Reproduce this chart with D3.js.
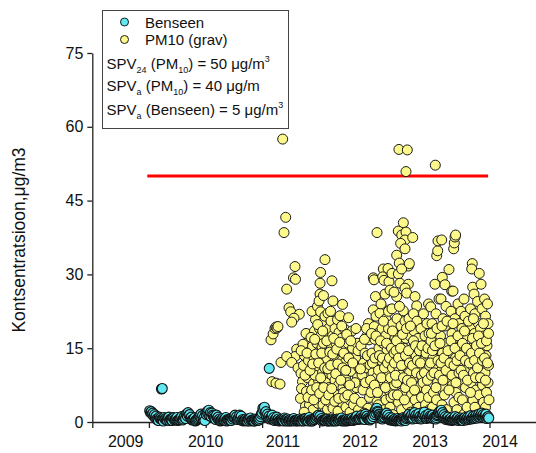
<!DOCTYPE html>
<html>
<head>
<meta charset="utf-8">
<script src="https://cdn.jsdelivr.net/npm/d3@7"></script>
<style>
  html, body { margin: 0; padding: 0; background: #fff; }
  svg { display: block; font-family: "Liberation Sans", Arial, sans-serif; }
</style>
</head>
<body>
<svg id="chart" width="536" height="453"></svg>
<script>
// Daily PM10 (gravimetric) concentrations, µg/m3 — [decimal year, value]
const pm10 = [
  [2010.845,16.7],[2010.872,17.9],[2010.896,19.0],[2010.909,19.3],[2010.922,19.1],[2010.935,19.4],[2010.858,8.2],[2010.909,7.9],[2010.974,12.1],[2010.961,7.7],
  [2010.996,57.5],[2011.035,41.6],[2011.013,38.5],[2011.156,31.6],[2011.136,29.3],[2011.162,29.0],[2011.048,27.0],[2011.078,23.2],[2011.100,22.4],[2011.212,21.9],
  [2011.143,21.1],[2011.113,20.3],[2011.178,14.8],[2011.156,13.3],[2011.048,13.3],[2011.113,12.1],[2011.195,11.0],
  [2011.234,9.9],[2011.253,8.2],[2011.227,4.8],[2011.240,6.8],[2011.266,11.5],[2011.279,13.5],[2011.305,6.2],[2011.292,3.2],[2011.318,9.0],[2011.331,12.5],
  [2011.344,3.5],[2011.338,16.8],[2011.299,18.0],[2011.260,15.8],
  [2011.357,5.5],[2011.370,10.8],[2011.383,15.4],[2011.390,2.5],[2011.396,7.8],[2011.403,13.0],[2011.409,18.5],[2011.422,20.8],[2011.429,4.2],[2011.435,11.0],
  [2011.442,16.0],[2011.455,3.8],[2011.461,8.5],[2011.468,14.2],[2011.474,19.0],[2011.377,22.5],[2011.448,23.5],[2011.416,9.5],[2011.364,17.2],
  [2011.488,30.4],[2011.481,28.2],[2011.481,26.0],[2011.468,24.6],[2011.488,22.4],[2011.500,20.0],[2011.494,17.5],[2011.507,15.2],[2011.500,12.5],[2011.513,10.0],
  [2011.494,6.8],[2011.519,3.5],[2011.532,1.8],[2011.545,33.0],[2011.526,25.7],[2011.545,21.5],[2011.558,18.4],[2011.539,14.0],[2011.564,11.5],[2011.552,8.2],
  [2011.571,5.2],[2011.578,2.6],[2011.584,22.1],[2011.591,19.0],[2011.597,16.3],[2011.584,13.4],[2011.604,9.8],[2011.597,7.0],[2011.610,4.0],[2011.526,16.0],[2011.571,12.8],
  [2011.636,28.7],[2011.649,24.6],[2011.623,20.5],[2011.643,17.5],[2011.630,15.0],[2011.656,12.0],[2011.636,9.5],[2011.662,6.0],[2011.649,2.8],[2011.675,19.0],
  [2011.688,16.0],[2011.682,13.5],[2011.695,11.0],[2011.675,8.5],[2011.701,5.5],[2011.714,2.2],[2011.708,20.8],[2011.721,14.5],[2011.727,18.2],[2011.721,7.5],
  [2011.734,10.5],[2011.617,22.5],
  [2011.773,23.9],[2011.740,21.6],[2011.760,17.0],[2011.753,14.5],[2011.766,12.5],[2011.747,10.0],[2011.779,7.0],[2011.760,4.0],[2011.792,19.0],[2011.805,15.5],
  [2011.799,12.0],[2011.812,9.0],[2011.786,6.0],[2011.818,3.0],[2011.831,13.5],[2011.851,21.2],[2011.844,16.0],[2011.857,10.5],[2011.838,8.0],[2011.864,4.5],[2011.870,2.0],
  [2011.896,18.5],[2011.903,15.0],[2011.883,10.3],[2011.890,5.8],[2011.916,3.5],[2011.922,12.5],[2011.948,19.0],[2011.961,16.0],[2011.942,13.0],[2011.968,9.0],
  [2011.955,7.0],[2011.981,2.5],[2011.987,11.0],[2011.935,8.0],
  [2011.236,14.5],[2011.275,2.0],[2011.286,9.5],[2011.312,14.0],[2011.325,5.0],[2011.351,10.5],[2011.372,6.5],[2011.386,11.8],[2011.399,4.5],[2011.412,16.8],
  [2011.426,13.8],[2011.438,7.0],[2011.451,19.8],[2011.463,12.0],[2011.477,5.8],[2011.490,9.0],[2011.503,14.0],[2011.516,18.5],[2011.529,7.0],[2011.542,11.0],
  [2011.555,4.5],[2011.568,16.5],[2011.581,10.8],[2011.594,5.5],[2011.607,14.2],[2011.620,11.5],[2011.633,6.8],[2011.646,13.8],[2011.659,17.0],[2011.672,4.2],
  [2011.685,9.8],[2011.698,14.8],[2011.711,11.8],[2011.724,4.8],[2011.737,16.2],[2011.750,8.5],[2011.763,19.5],[2011.776,11.0],[2011.789,14.0],[2011.802,5.0],
  [2011.815,10.5],[2011.828,17.8],[2011.841,5.5],[2011.854,13.0],[2011.867,7.5],[2011.880,16.5],[2011.906,12.0],[2011.930,4.8],[2011.975,14.5],
  [2012.014,15.5],[2012.029,9.6],[2012.043,6.5],[2012.021,4.0],[2012.050,12.0],[2012.071,14.0],[2012.086,11.0],[2012.114,2.8],[2012.079,8.0],[2012.100,17.5],
  [2012.129,16.7],[2012.143,11.6],[2012.136,5.0],[2012.121,20.0],[2012.107,13.5],[2012.057,1.8],[2012.093,19.0],[2012.007,10.8],[2012.064,16.8],
  [2012.190,29.3],[2012.200,28.9],[2012.190,22.8],[2012.204,19.4],[2012.214,16.8],[2012.171,14.0],[2012.186,10.0],[2012.157,6.0],[2012.243,4.1],[2012.229,21.5],
  [2012.243,38.5],[2012.286,22.1],[2012.257,18.0],[2012.271,15.0],[2012.250,12.0],[2012.279,8.5],[2012.264,3.5],[2012.221,25.5],[2012.236,9.0],[2012.164,18.0],
  [2012.333,31.1],[2012.324,29.5],[2012.343,28.8],[2012.300,24.0],[2012.314,19.0],[2012.329,16.0],[2012.307,12.5],[2012.336,9.5],[2012.321,6.0],[2012.350,2.5],
  [2012.357,26.0],[2012.371,21.0],[2012.364,17.5],[2012.386,14.5],[2012.379,11.5],[2012.393,8.0],[2012.371,4.5],[2012.400,31.2],[2012.414,28.5],[2012.421,22.8],
  [2012.407,19.0],[2012.429,15.5],[2012.400,12.5],[2012.421,10.0],[2012.407,6.5],[2012.429,3.0],
  [2012.150,8.5],[2012.179,12.0],[2012.207,7.5],[2012.214,13.0],[2012.229,17.5],[2012.250,6.0],[2012.264,10.5],[2012.279,13.5],[2012.293,16.5],[2012.307,9.0],
  [2012.321,13.0],[2012.336,20.5],[2012.350,11.0],[2012.364,7.0],[2012.379,16.0],[2012.393,12.0],[2012.407,22.5],[2012.421,13.0],[2012.436,9.0],[2012.450,15.0],
  [2012.619,40.5],[2012.547,38.8],[2012.596,38.0],[2012.657,38.6],[2012.643,37.0],[2012.581,36.3],[2012.643,35.2],[2012.524,33.9],[2012.561,32.3],[2012.690,31.7],
  [2012.753,37.5],[2012.556,55.4],[2012.676,55.3],[2012.657,50.9],
  [2012.429,26.8],[2012.457,30.2],[2012.548,30.1],[2012.595,31.1],[2012.705,32.2],[2012.571,28.2],[2012.690,28.0],[2012.643,27.2],[2012.524,25.5],[2012.667,26.2],
  [2012.786,25.5],[2012.810,23.6],[2012.486,26.4],[2012.619,22.6],[2012.457,23.0],
  [2012.471,20.0],[2012.500,17.0],[2012.486,14.0],[2012.464,11.0],[2012.493,7.5],[2012.443,5.0],[2012.471,1.5],[2012.529,21.0],[2012.538,18.0],[2012.514,14.5],
  [2012.557,11.0],[2012.524,8.0],[2012.550,4.0],[2012.586,19.5],[2012.600,16.2],[2012.614,13.0],[2012.579,9.5],[2012.607,6.0],[2012.593,2.5],[2012.643,20.5],
  [2012.657,17.0],[2012.629,15.0],[2012.671,11.5],[2012.650,7.0],[2012.679,3.5],[2012.700,21.0],[2012.714,17.5],[2012.729,13.5],[2012.707,10.0],[2012.736,5.5],
  [2012.721,2.0],[2012.764,22.0],[2012.771,18.5],[2012.750,15.0],[2012.779,12.0],[2012.757,8.5],[2012.786,4.5],[2012.814,20.5],[2012.829,17.0],[2012.800,13.5],
  [2012.843,10.5],[2012.821,7.0],[2012.836,3.0],
  [2012.464,18.5],[2012.479,5.5],[2012.493,12.0],[2012.507,9.5],[2012.521,16.5],[2012.536,5.5],[2012.550,13.0],[2012.564,23.5],[2012.579,15.0],[2012.593,11.5],
  [2012.607,17.8],[2012.621,9.0],[2012.636,4.5],[2012.650,13.5],[2012.664,19.0],[2012.679,8.5],[2012.693,14.5],[2012.707,12.0],[2012.721,19.5],[2012.736,8.0],
  [2012.750,11.5],[2012.764,16.5],[2012.779,6.5],[2012.793,15.5],[2012.807,10.0],[2012.821,12.5],[2012.850,14.5],[2012.879,9.5],[2012.914,12.5],[2012.950,10.5],[2012.986,13.5],
  [2012.871,19.0],[2012.886,15.5],[2012.864,12.0],[2012.900,8.0],[2012.879,5.0],[2012.893,2.0],[2012.907,22.0],[2012.929,17.5],[2012.943,14.0],[2012.921,10.0],
  [2012.950,6.5],[2012.936,3.5],[2012.957,20.0],[2012.986,18.0],[2012.971,15.0],[2012.993,11.5],[2012.964,8.5],[2012.979,5.0],[2012.993,2.5],[2012.979,24.0],
  [2013.076,52.2],[2013.010,23.4],[2013.029,20.0],[2013.014,16.5],[2013.043,13.0],[2013.021,9.5],[2013.050,6.0],[2013.036,3.0],[2013.096,33.8],[2013.110,34.8],
  [2013.114,36.8],[2013.071,28.0],[2013.086,22.0],[2013.064,18.5],[2013.100,15.0],[2013.079,11.5],[2013.107,8.0],[2013.093,4.5],[2013.121,1.5],[2013.129,25.0],
  [2013.167,37.0],[2013.176,29.4],[2013.157,25.0],[2013.186,21.0],[2013.150,17.5],[2013.179,14.0],[2013.164,10.5],[2013.193,7.0],[2013.171,3.5],[2013.214,27.9],
  [2013.271,31.0],[2013.229,23.5],[2013.214,19.5],[2013.243,16.0],[2013.221,12.5],[2013.250,9.0],[2013.207,5.5],[2013.236,2.5],
  [2013.338,35.2],[2013.347,36.4],[2013.357,37.6],[2013.366,38.0],[2013.310,26.6],[2013.329,26.6],[2013.300,22.5],[2013.314,18.0],[2013.336,14.5],[2013.307,11.0],
  [2013.321,7.5],[2013.343,4.0],[2013.357,21.0],[2013.379,17.0],[2013.364,13.0],[2013.393,9.5],[2013.371,6.0],[2013.386,2.5],[2013.400,24.0],[2013.414,20.0],
  [2013.421,16.0],[2013.407,12.5],[2013.429,9.0],[2013.414,5.0],
  [2013.443,22.5],[2013.457,19.0],[2013.436,15.5],[2013.471,12.0],[2013.450,8.0],[2013.464,4.5],[2013.479,1.5],[2013.500,21.5],[2013.514,17.5],[2013.493,14.0],
  [2013.521,10.5],[2013.507,7.0],[2013.529,3.0],[2013.486,25.0],
  [2013.604,32.2],[2013.596,31.1],[2013.610,27.4],[2013.704,30.2],[2013.579,23.0],[2013.593,19.0],[2013.571,15.0],[2013.600,11.5],[2013.586,8.0],[2013.614,4.5],
  [2013.629,26.0],[2013.643,22.0],[2013.636,18.0],[2013.650,14.0],[2013.621,10.0],[2013.657,6.5],[2013.643,3.0],[2013.679,24.5],[2013.693,20.0],[2013.671,16.5],
  [2013.700,12.5],[2013.686,9.0],[2013.707,5.5],
  [2013.729,28.0],[2013.743,23.0],[2013.721,19.0],[2013.757,15.0],[2013.736,11.0],[2013.750,7.5],[2013.764,4.0],[2013.779,25.0],[2013.793,21.5],[2013.771,17.5],
  [2013.800,13.5],[2013.786,10.0],[2013.807,6.0],[2013.793,3.0],[2013.821,24.0],[2013.829,20.0],[2013.814,15.5],[2013.836,11.5],[2013.829,8.0],[2013.843,4.5],
  [2013.007,12.0],[2013.021,18.0],[2013.036,14.5],[2013.057,10.0],[2013.071,15.5],[2013.086,7.0],[2013.100,19.0],[2013.114,12.5],[2013.136,9.5],[2013.143,16.0],
  [2013.157,12.0],[2013.171,19.5],[2013.186,8.5],[2013.200,13.0],[2013.229,10.5],[2013.243,20.5],[2013.257,14.5],[2013.271,6.5],[2013.286,12.0],[2013.300,16.5],
  [2013.314,9.5],[2013.329,20.0],[2013.343,11.5],[2013.357,15.0],[2013.371,8.0],[2013.386,12.5],[2013.400,17.5],[2013.414,10.0],[2013.429,13.5],[2013.443,10.5],
  [2013.464,16.0],[2013.479,9.5],[2013.493,18.5],[2013.507,12.5],[2013.521,15.0],[2013.536,8.5],[2013.550,20.5],[2013.564,12.0],[2013.579,6.0],[2013.593,14.0],
  [2013.607,17.0],[2013.621,21.0],[2013.636,12.5],[2013.650,9.0],[2013.664,15.5],[2013.679,11.0],[2013.693,17.5],[2013.707,14.0],[2013.721,9.0],[2013.736,16.0],
  [2013.750,12.5],[2013.764,20.0],[2013.779,13.0],[2013.793,8.5],[2013.807,16.5],[2013.821,12.0],[2013.836,18.0]
];

// Benzene concentrations, µg/m3 — [decimal year, value]
const benzene = [
  [2009.30,2.3],[2009.31,1.9],[2009.32,2.1],[2009.33,1.6],[2009.34,1.8],[2009.35,1.2],[2009.36,1.5],[2009.37,0.9],[2009.38,1.2],[2009.39,0.6],
  [2009.40,0.4],[2009.41,0.3],[2009.42,1.0],[2009.43,0.7],[2009.44,0.8],[2009.45,0.5],[2009.46,0.5],[2009.47,0.2],[2009.48,0.9],[2009.49,0.6],
  [2009.50,0.7],[2009.51,0.4],[2009.52,0.4],[2009.53,0.8],[2009.54,1.0],[2009.55,0.3],[2009.56,0.6],[2009.57,0.5],[2009.58,0.3],[2009.59,0.9],
  [2009.60,0.8],[2009.61,0.4],[2009.62,0.5],[2009.63,0.6],[2009.64,0.9],[2009.65,0.3],[2009.66,0.4],[2009.67,0.5],[2009.68,0.7],[2009.69,0.8],
  [2009.70,1.1],[2009.71,0.4],[2009.72,0.6],[2009.73,1.0],[2009.74,1.3],[2009.75,0.7],[2009.76,1.6],[2009.77,1.2],[2009.78,1.9],[2009.79,1.4],
  [2009.80,1.5],[2009.81,0.8],[2009.82,1.0],[2009.83,0.4],[2009.84,0.5],[2009.85,0.6],[2009.86,0.8],[2009.87,0.2],[2009.88,0.3],[2009.89,0.5],
  [2009.90,0.7],[2009.91,0.9],[2009.92,1.2],[2009.93,1.1],[2009.94,1.6],[2009.95,0.7],[2009.96,1.3],[2009.97,0.5],[2009.98,0.9],[2009.99,0.3],
  [2009.447,6.7],[2009.457,6.8],
  [2010.00,1.8],[2010.01,1.5],[2010.02,2.1],[2010.03,1.7],[2010.04,2.4],[2010.05,1.3],[2010.06,1.9],[2010.07,1.1],[2010.08,1.8],[2010.09,1.4],
  [2010.10,1.2],[2010.11,0.9],[2010.12,0.8],[2010.13,0.5],[2010.14,1.4],[2010.15,0.8],[2010.16,1.0],[2010.17,0.4],[2010.18,0.6],[2010.19,0.2],
  [2010.20,0.3],[2010.21,0.5],[2010.22,0.7],[2010.23,0.3],[2010.24,0.4],[2010.25,0.6],[2010.26,0.9],[2010.27,0.2],[2010.28,0.5],[2010.29,0.4],
  [2010.30,0.3],[2010.31,0.5],[2010.32,0.6],[2010.33,0.3],[2010.34,0.8],[2010.35,0.6],[2010.36,1.0],[2010.37,0.9],[2010.38,1.4],[2010.39,0.7],
  [2010.40,1.1],[2010.41,0.5],[2010.42,0.7],[2010.43,0.9],[2010.44,1.4],[2010.45,0.8],[2010.46,1.2],[2010.47,0.3],[2010.48,0.5],[2010.49,0.2],
  [2010.50,0.3],[2010.51,0.4],[2010.52,0.6],[2010.53,0.3],[2010.54,0.2],[2010.55,0.6],[2010.56,0.5],[2010.57,0.2],[2010.58,0.8],[2010.59,0.3],
  [2010.60,0.4],[2010.61,0.4],[2010.62,0.2],[2010.63,0.2],[2010.64,0.6],[2010.65,0.5],[2010.66,0.3],[2010.67,0.3],[2010.68,0.5],[2010.69,0.4],
  [2010.70,0.7],[2010.71,1.1],[2010.72,1.6],[2010.73,1.9],[2010.74,2.8],[2010.75,2.4],[2010.76,3.0],[2010.77,1.8],[2010.78,2.1],[2010.79,1.1],
  [2010.80,1.6],[2010.81,0.9],[2010.82,1.2],[2010.83,0.6],[2010.84,0.8],[2010.85,1.0],[2010.86,1.4],[2010.87,0.5],[2010.88,0.9],[2010.89,0.3],
  [2010.90,0.5],[2010.91,0.7],[2010.92,1.0],[2010.93,0.4],[2010.94,0.6],[2010.95,0.2],[2010.96,0.3],[2010.97,0.4],[2010.98,0.5],[2010.99,0.3],
  [2010.822,10.9],
  [2011.00,0.4],[2011.01,0.2],[2011.02,0.8],[2011.03,0.5],[2011.04,0.3],[2011.05,0.2],[2011.06,0.6],[2011.07,0.3],[2011.08,0.2],[2011.09,0.4],
  [2011.10,0.5],[2011.11,0.2],[2011.12,0.3],[2011.13,0.5],[2011.14,0.7],[2011.15,0.3],[2011.16,0.2],[2011.17,0.4],[2011.18,0.4],[2011.19,0.2],
  [2011.20,0.3],[2011.21,0.4],[2011.22,0.6],[2011.23,0.3],[2011.24,0.2],[2011.25,0.5],[2011.26,0.4],[2011.27,0.2],[2011.28,0.7],[2011.29,0.6],
  [2011.30,0.3],[2011.31,0.3],[2011.32,0.5],[2011.33,0.2],[2011.34,0.9],[2011.35,0.4],[2011.36,0.4],[2011.37,0.2],[2011.38,0.2],[2011.39,0.4],
  [2011.40,0.6],[2011.41,0.5],[2011.42,0.8],[2011.43,0.7],[2011.44,1.1],[2011.45,0.9],[2011.46,1.4],[2011.47,0.8],[2011.48,1.2],[2011.49,0.5],
  [2011.50,0.7],[2011.51,0.2],[2011.52,0.4],[2011.53,0.4],[2011.54,0.3],[2011.55,0.3],[2011.56,0.6],[2011.57,0.5],[2011.58,0.2],[2011.59,0.2],
  [2011.60,0.4],[2011.61,0.3],[2011.62,0.3],[2011.63,0.2],[2011.64,0.5],[2011.65,0.4],[2011.66,0.2],[2011.67,0.3],[2011.68,0.4],[2011.69,0.2],
  [2011.70,0.6],[2011.71,0.4],[2011.72,0.3],[2011.73,0.6],[2011.74,0.5],[2011.75,0.3],[2011.76,0.8],[2011.77,0.2],[2011.78,0.4],[2011.79,0.3],
  [2011.80,0.2],[2011.81,0.4],[2011.82,0.5],[2011.83,0.2],[2011.84,0.3],[2011.85,0.4],[2011.86,0.6],[2011.87,0.3],[2011.88,0.4],[2011.89,0.5],
  [2011.90,0.8],[2011.91,0.3],[2011.92,0.5],[2011.93,0.6],[2011.94,0.9],[2011.95,0.8],[2011.96,1.2],[2011.97,0.5],[2011.98,0.7],[2011.99,0.6],
  [2012.00,0.9],[2012.01,0.6],[2012.02,1.3],[2012.03,0.9],[2012.04,0.6],[2012.05,0.8],[2012.06,1.0],[2012.07,0.5],[2012.08,1.6],[2012.09,1.1],
  [2012.10,1.2],[2012.11,0.7],[2012.12,0.8],[2012.13,0.5],[2012.14,0.4],[2012.15,0.6],[2012.16,0.9],[2012.17,0.7],[2012.18,1.4],[2012.19,1.1],
  [2012.20,1.9],[2012.21,1.5],[2012.22,2.4],[2012.23,1.8],[2012.24,2.8],[2012.25,2.2],[2012.26,2.0],[2012.27,1.6],[2012.28,1.5],[2012.29,1.2],
  [2012.30,1.0],[2012.31,0.7],[2012.32,0.6],[2012.33,0.9],[2012.34,1.2],[2012.35,1.0],[2012.36,1.5],[2012.37,1.3],[2012.38,1.8],[2012.39,1.1],
  [2012.40,1.4],[2012.41,0.6],[2012.42,0.9],[2012.43,0.4],[2012.44,0.5],[2012.45,0.6],[2012.46,0.8],[2012.47,0.3],[2012.48,0.4],[2012.49,0.4],
  [2012.50,0.6],[2012.51,0.2],[2012.52,0.3],[2012.53,0.5],[2012.54,0.7],[2012.55,0.3],[2012.56,0.5],[2012.57,0.4],[2012.58,0.3],[2012.59,0.2],
  [2012.60,0.6],[2012.61,0.5],[2012.62,0.9],[2012.63,0.7],[2012.64,0.4],[2012.65,0.3],[2012.66,0.7],[2012.67,0.9],[2012.68,1.2],[2012.69,1.3],
  [2012.70,1.6],[2012.71,0.9],[2012.72,1.1],[2012.73,1.2],[2012.74,1.5],[2012.75,0.6],[2012.76,0.8],[2012.77,1.4],[2012.78,1.9],[2012.79,1.1],
  [2012.80,1.4],[2012.81,0.7],[2012.82,1.0],[2012.83,1.3],[2012.84,1.7],[2012.85,0.9],[2012.86,1.2],[2012.87,0.6],[2012.88,0.8],[2012.89,1.1],
  [2012.90,1.5],[2012.91,1.6],[2012.92,2.0],[2012.93,1.0],[2012.94,1.3],[2012.95,0.7],[2012.96,0.9],[2012.97,1.2],[2012.98,1.6],[2012.99,0.9],
  [2013.00,1.2],[2013.01,0.9],[2013.02,0.8],[2013.03,1.1],[2013.04,1.4],[2013.05,0.7],[2013.06,1.0],[2013.07,0.8],[2013.08,0.6],[2013.09,0.9],
  [2013.10,1.3],[2013.11,1.5],[2013.12,1.8],[2013.13,1.9],[2013.14,2.2],[2013.15,1.8],[2013.16,2.4],[2013.17,1.6],[2013.18,1.9],[2013.19,1.2],
  [2013.20,1.5],[2013.21,0.8],[2013.22,1.1],[2013.23,0.5],[2013.24,0.7],[2013.25,0.8],[2013.26,1.0],[2013.27,0.4],[2013.28,0.5],[2013.29,0.6],
  [2013.30,0.8],[2013.31,0.3],[2013.32,0.4],[2013.33,0.5],[2013.34,0.7],[2013.35,0.8],[2013.36,1.1],[2013.37,0.4],[2013.38,0.6],[2013.39,0.7],
  [2013.40,0.9],[2013.41,0.3],[2013.42,0.5],[2013.43,0.6],[2013.44,0.8],[2013.45,0.5],[2013.46,0.4],[2013.47,0.3],[2013.48,0.7],[2013.49,0.7],
  [2013.50,0.9],[2013.51,0.4],[2013.52,0.6],[2013.53,0.8],[2013.54,1.0],[2013.55,0.5],[2013.56,0.7],[2013.57,1.0],[2013.58,1.3],[2013.59,0.6],
  [2013.60,0.8],[2013.61,0.9],[2013.62,1.2],[2013.63,0.7],[2013.64,0.9],[2013.65,1.1],[2013.66,1.4],[2013.67,0.8],[2013.68,1.1],[2013.69,1.3],
  [2013.70,1.6],[2013.71,1.0],[2013.72,1.3],[2013.73,1.4],[2013.74,1.8],[2013.75,1.2],[2013.76,1.5],[2013.77,0.9],[2013.78,1.2],[2013.79,1.3],
  [2013.80,1.6],[2013.81,0.7],[2013.82,1.0],[2013.83,1.1],[2013.84,0.8]
];

// Axis ticks and labels
const yTicks = [0, 15, 30, 45, 60, 75];
const yearLabels = [2009, 2010, 2011, 2012, 2013, 2014];
const xTickYears = [2008.58, 2009.29, 2010.00, 2010.73, 2011.47, 2012.22, 2013.04, 2013.85];

// 24-hour PM10 limit value and the period it is drawn over
const pm10Limit = 50;
const limitPeriod = [2009.27, 2013.83];

const seriesNames = ["Benseen", "PM10 (grav)"];

// ---- layout ----
const svg = d3.select("#chart");
const FONT = "\"Liberation Sans\", Arial, sans-serif";
const colors = { benzene: "#62e8f1", pm10: "#fcf98a" };

// the year axis is drawn with slightly uneven year spacing
const x = d3.scaleLinear()
  .domain([2008.58, 2009, 2010, 2011, 2012, 2013, 2014, 2014.514])
  .range([92.3, 125.7, 205.7, 283, 360, 430, 500, 536]);
const y = d3.scaleLinear().domain([0, 75]).range([422, 53]);

// y axis
const yAxis = svg.append("g")
  .attr("transform", "translate(92.3,0)")
  .call(d3.axisLeft(y).tickValues(yTicks).tickSize(5).tickSizeOuter(0).tickPadding(4));
yAxis.selectAll("text").attr("font-size", 16).attr("font-family", FONT).attr("fill", "#111");

// x axis (ticks only; year labels placed separately)
svg.append("g")
  .attr("transform", "translate(0,422)")
  .call(d3.axisBottom(x).tickValues(xTickYears).tickSize(6).tickSizeOuter(0).tickFormat(""));

svg.selectAll(".domain, .tick line").attr("stroke", "#222").attr("stroke-width", 1.3);

svg.append("g").selectAll("text")
  .data(yearLabels).join("text")
  .attr("x", d => x(d)).attr("y", 447)
  .attr("text-anchor", "middle")
  .attr("font-size", 16).attr("font-family", FONT).attr("fill", "#111")
  .text(d => d);

// y axis title
svg.append("text")
  .attr("transform", "translate(25,240) rotate(-90)")
  .attr("text-anchor", "middle")
  .attr("font-size", 17.5).attr("font-family", FONT).attr("fill", "#111")
  .text("Kontsentratsioon,\u03bcg/m3");

// PM10 limit line
svg.append("line")
  .attr("x1", x(limitPeriod[0])).attr("x2", x(limitPeriod[1]))
  .attr("y1", y(pm10Limit)).attr("y2", y(pm10Limit))
  .attr("stroke", "#ff0000").attr("stroke-width", 3);

// scatter points: PM10 first, benzene on top
const R = 5;
svg.append("g").selectAll("circle")
  .data(pm10).join("circle")
  .attr("cx", d => x(d[0])).attr("cy", d => y(d[1])).attr("r", R)
  .attr("fill", colors.pm10).attr("stroke", "#1a1a1a").attr("stroke-width", 1);

svg.append("g").selectAll("circle")
  .data(benzene).join("circle")
  .attr("cx", d => x(d[0])).attr("cy", d => y(d[1])).attr("r", R)
  .attr("fill", colors.benzene).attr("stroke", "#111").attr("stroke-width", 1.1);

// legend
const lg = svg.append("g");
lg.append("rect")
  .attr("x", 102.5).attr("y", 10.5).attr("width", 186).attr("height", 118)
  .attr("fill", "#fff").attr("stroke", "#444").attr("stroke-width", 1);

const legendColors = [colors.benzene, colors.pm10];
seriesNames.forEach((name, i) => {
  const cy = 22 + i * 17.5;
  lg.append("circle").attr("cx", 124.5).attr("cy", cy).attr("r", 4)
    .attr("fill", legendColors[i]).attr("stroke", "#1a1a1a").attr("stroke-width", 1);
  lg.append("text").attr("x", 145).attr("y", cy + 5.5)
    .attr("font-size", 15).attr("font-family", FONT).attr("fill", "#111")
    .text(name);
});

// limit value lines with sub/superscripts: [text, style] runs
const limitLines = [
  [["SPV", ""], ["24", "sub"], [" (PM", ""], ["10", "sub"], [") = 50 \u03bcg/m", ""], ["3", "sup"]],
  [["SPV", ""], ["a", "sub"], [" (PM", ""], ["10", "sub"], [") = 40 \u03bcg/m", ""]],
  [["SPV", ""], ["a", "sub"], [" (Benseen) = 5 \u03bcg/m", ""], ["3", "sup"]]
];
const lineBaselines = [69, 91, 115];
limitLines.forEach((runs, i) => {
  const t = lg.append("text").attr("x", 106.5).attr("y", lineBaselines[i])
    .attr("font-size", 15).attr("font-family", FONT).attr("fill", "#111");
  let shift = 0;
  runs.forEach(([s, kind]) => {
    const target = kind === "sub" ? 4 : kind === "sup" ? -7 : 0;
    t.append("tspan")
      .attr("dy", target - shift)
      .attr("font-size", kind ? 9 : 15)
      .text(s);
    shift = target;
  });
});
</script>
</body>
</html>
